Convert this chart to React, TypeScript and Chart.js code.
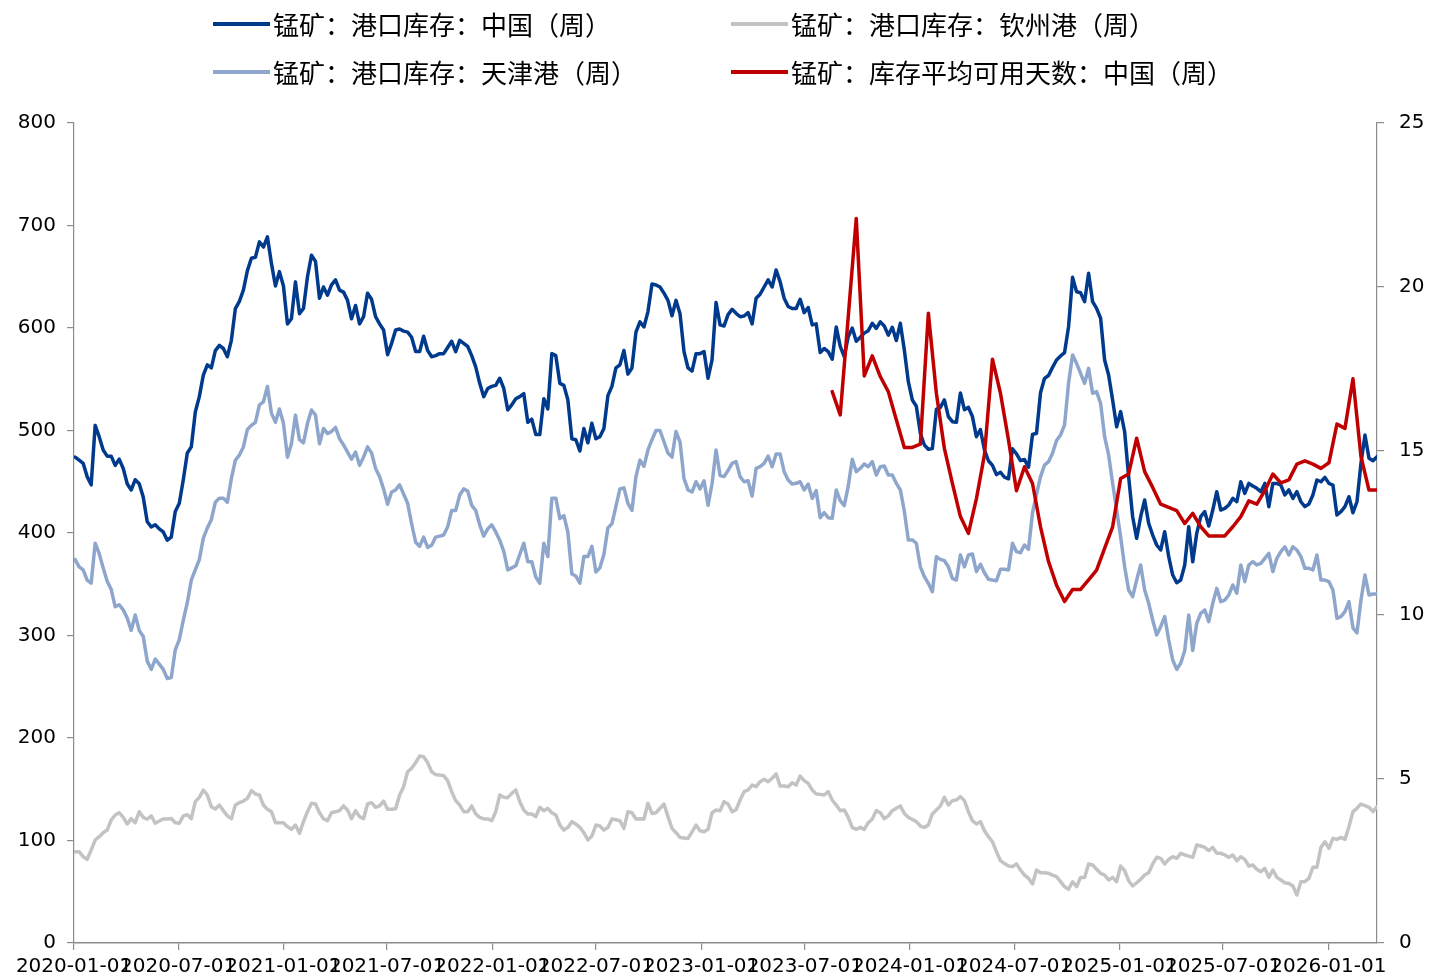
import React, { useEffect, useRef } from 'react';
import { Chart, registerables } from 'chart.js';

Chart.register(...registerables);

// ---------- data ----------
const FIRST_WEEK = '2020-01-03';

const xTickLabels = [
  '2020-01-01', '2020-07-01', '2021-01-01', '2021-07-01', '2022-01-01', '2022-07-01',
  '2023-01-01', '2023-07-01', '2024-01-01', '2024-07-01', '2025-01-01', '2025-07-01', '2026-01-01',
];

const seriesNames = [
  '锰矿：港口库存：中国（周）',
  '锰矿：港口库存：钦州港（周）',
  '锰矿：港口库存：天津港（周）',
  '锰矿：库存平均可用天数：中国（周）',
];

// 锰矿：港口库存：中国（周） weekly, 万吨
const chinaStock = [
  474, 471, 468, 455, 447, 505, 494, 481, 475, 475,
  466, 472, 463, 448, 442, 452, 448, 435, 411, 406,
  408, 404, 401, 393, 396, 421, 429, 452, 478, 484,
  518, 533, 554, 564, 561, 578, 583, 580, 572, 588,
  619, 626, 637, 656, 668, 669, 684, 679, 689, 663,
  641, 655, 641, 604, 609, 645, 614, 619, 650, 671,
  665, 629, 640, 632, 642, 647, 637, 635, 627, 609,
  622, 604, 611, 634, 628, 611, 604, 598, 574, 585,
  598, 599, 597,
  596, 591, 577, 577, 592, 578, 572, 573, 575, 575,
  581, 587, 577, 588, 585, 582, 573, 562, 546, 533,
  541, 543, 544, 551, 541, 520, 525, 531, 533, 536,
  508, 511, 496, 496, 531, 521, 575, 573, 546, 544,
  530, 492, 491, 480, 502, 488, 507, 492, 494, 502,
  534, 543, 561, 564, 578, 555, 561, 596, 606, 601,
  616, 643, 642, 640, 634, 627, 612, 627, 614, 577,
  561, 558, 575, 575, 577, 551, 569, 625, 603, 602,
  613,
  618.2, 614.3, 611, 611.7, 615, 604, 629, 633, 640, 647,
  640, 656.6, 645, 629, 621, 619, 619, 628, 615, 620,
  603, 604, 576, 580, 577, 569.5, 601, 582, 572, 591.5,
  600, 587, 591, 595, 597.4, 604.6, 599.7, 606, 602, 593,
  600.7, 587.8, 604.6, 578.5, 547.6, 529.8, 523.7, 497.3, 485.9, 481.7,
  482.3, 520.6, 522.6, 529.8, 513.6, 508.6, 508, 536.6, 520.3, 522.6,
  513.6, 493.9, 501, 481, 470.5, 466, 457, 459.3, 454.4, 452.9,
  482.1, 477.3, 470.7, 471.7, 464.2, 496.1, 497.3, 536.8, 550.9, 553.7,
  561.6, 568.8,
  572.7, 576, 601.3, 649.4, 635.4, 634.4, 625.7, 653.4, 625.7, 619.2,
  609.5, 568.8, 554.1, 529.8, 503.7, 518.4, 498.8, 454.9, 415.9, 394.8,
  415.9, 432.2, 409.4, 398, 388.3, 383.4, 401.3, 376.9, 359, 351.5,
  354.1, 368.8, 406.1, 372, 399.7, 415.9, 420.8, 406.8, 422.4, 440.3,
  422.4, 424, 427.3, 433.8, 430.5, 450, 438.7, 448.4, 445.9, 443.6,
  440.3, 448.4, 425.7, 448.4, 448.4, 446.8, 437.1, 442, 433.8, 440.3,
  430.5, 425.7, 428.3, 437.1, 451.7, 450, 454.3, 448.4, 446.8, 417.6,
  420.8, 425.7, 435.4, 419.8, 430.5, 468, 495.6, 472.9, 470.5, 474.5,
];

// 锰矿：港口库存：钦州港（周）
const qinzhouStock = [
  89.1, 89.1, 84.2, 81.6, 90.7, 100.5, 103.7, 107.6, 110.2, 120,
  124.9, 127.1, 122.6, 116.1, 121.3, 117.4, 128.1, 122.6, 120.7, 124,
  116.8, 119, 121, 121, 121.4, 117.4, 116.8, 124, 125.2, 121.3,
  137.9, 142.1, 149.3, 144.4, 133, 130.7, 134.6, 129.1, 124, 121.3,
  134.6, 136.9, 138.5, 141.1, 148.6, 145.4, 144.4, 134.6, 130.4, 128.1,
  117.4, 117.4, 117.4, 113.5, 110.9, 115.1, 107, 118.4, 128.1, 136.3,
  135.6, 127.1, 121.3, 119.3, 127.1, 128.1, 129.1, 133.7, 129.8, 121.3,
  129.1, 123.3, 121.3, 135.6, 136.9, 132.4, 133.7, 138.5, 130.4, 130.4,
  131, 144.4, 152.5, 167.1, 170.4, 175.9, 182.4, 181.8, 176, 167.1,
  164.2, 163.9, 163.3, 158.4, 147.6, 138.9, 134.6, 128.1, 128.1, 133.7,
  125.9, 122.6, 121, 121, 119.3, 128.1, 144.4, 142.1, 141.8, 146,
  149.3, 137.9, 129.8, 125.9, 125.9, 123.3, 132.4, 129.1, 131.4, 127.1,
  124.9, 115.1, 110.2, 112.8, 118.4, 116, 112.8, 107.6, 100.5, 104.4,
  115.1, 114.1, 110.2, 112.8, 121, 120.3, 119.3, 111.8, 128.1, 127.1,
  121, 121.3, 121, 136.3, 126.4, 127.1, 131.4, 135.6, 123.3, 111.8,
  107.6, 103, 102.5, 102, 108.5, 115.1, 109.5, 108.5, 110.9, 127.1,
  129.8, 129.1, 137.9, 135.6, 128.1,
  130,
  139.5, 147.6, 149.3, 154.1, 152.5, 157.4, 159.7, 157.4, 160.7, 164.9,
  153.2, 153.2, 152.5, 156.4, 154.1, 162.9, 158.4, 155.8, 149.3, 145.4,
  145,
  144.4, 147.6, 139.5, 134.6, 129.1, 129.8, 122.6, 112.8, 110.9, 112.8,
  110.9, 117.4, 121, 129.1, 127.1, 121.3, 124, 129.1, 131.4, 133.7,
  126.4, 122.6, 120.5,
  118.4, 114.1, 112.8, 115.1, 125.9, 129.8, 133.7, 142.1,
  134.6, 138.9, 139.5, 142.8, 138.9, 128.1, 119.3, 116.1, 118.4, 109.5,
  103.7, 98.8, 89.1, 80.3, 77.5,
  75.1, 74.5, 77.2, 71.2, 66.3, 63.1,
  57.6, 71.2, 68.6, 68.6, 68, 66.3, 64.7, 59.8, 54.9, 52.4,
  59.8, 54.9, 64, 64, 77.1, 76.1, 72,
  68, 66.3, 61.5, 64,
  59.8, 75.1, 70.5, 60.8, 55.6, 58.8, 62.1, 66.3, 68.6, 77.1,
  83.6, 82.6, 77.1, 81.6, 84.2, 82.6, 87.5, 85.9, 84.8,
  83.6, 95.6,
  94.6, 93.3, 90, 93.3, 87.5, 87.5, 85.9, 83.6, 85.9, 80.3,
  84.2, 81.6, 75.1, 76.1, 71.9, 69.6, 72.8, 64, 71.2, 64,
  61.5,
  58.8, 58.1, 55.6, 46.8, 59.8, 59.8, 63.1, 73.8, 73.8, 93.3,
  98.8, 92.4, 102.1, 101.1, 103, 101.1, 113.5, 128.1, 131.4, 135.6,
  134,
  132.4, 128.1, 133.1,
];

// 锰矿：港口库存：天津港（周）
const tianjinStock = [
  374, 367, 364, 354, 351, 390, 380, 366, 353, 345,
  328, 330, 325, 317, 305, 320, 305, 299, 275, 267,
  277, 272, 267, 258, 259, 286, 296, 315, 332, 354,
  364, 374, 395, 405, 413, 430, 434, 434, 430, 453,
  471, 476, 484, 501, 505, 508, 525, 528, 543, 517,
  508, 521, 507, 474, 487, 515, 491, 488, 507, 520,
  515, 487, 502, 497, 499, 503, 492, 486, 479, 472,
  479, 466, 474, 484, 478, 463, 455, 443, 428, 440,
  442, 447, 438,
  429, 409, 391, 387, 396, 386, 388, 396, 397, 398,
  406, 422, 422, 437, 443, 441, 427, 422, 408, 397,
  404, 408, 401, 393, 382, 364, 366, 368, 379, 390,
  372, 372, 357, 351, 390, 377, 434, 434, 414, 417,
  401, 360, 358, 351, 377, 377, 387, 362, 366, 379,
  405, 409, 426, 443, 444, 429, 422, 455, 471, 465,
  481, 491, 500, 500, 489, 478, 474, 499, 489, 453,
  442, 440, 450, 443, 451, 427, 448, 481, 456, 455,
  461,
  468, 469.6, 455, 450, 451, 436, 463, 464.7, 468, 475,
  464.7, 477, 477, 459.8, 451.7, 447.8, 448.5, 450, 442, 447.8,
  433.8, 441.3, 414.9, 419.8, 414.9, 414.3, 442, 431.5, 426.6, 445.7,
  472, 459.8, 463, 467.3, 464.7, 469.6, 456.6, 464.7, 465.4, 456.6,
  456.6, 448.5, 442, 421.5, 393.2, 393.2, 390, 367, 357.4, 350.9,
  342.7, 376.9, 374.3, 373, 367, 355.8, 354.1, 378.5, 367, 378.5,
  379.5, 362.3, 369.4, 361.2, 354.9, 354.1, 353.5, 364.6, 364.6, 363.9,
  390, 381.8, 380.8, 388.3, 384.1, 419.8, 437.7, 455, 466.3, 469.6,
  477.8, 490.3,
  495.6, 505.4, 546, 573.7, 565.5, 555.8, 546, 560.6, 536.3, 537.9,
  526.5, 494, 476.1, 448.5, 422.4, 396.4, 367.1, 344.4, 337.9, 354.1,
  368.8, 344.4, 331.4, 315.1, 300.5, 308.6, 318.4, 295.6, 276.1, 266.9,
  272.9, 285.4, 320, 285.4, 311.9, 321.6, 324.9, 313.5, 331.4, 346,
  333, 334.6, 339.5, 349.3, 341.2, 368.8, 352.5, 368.8, 372, 368.8,
  370.4, 375.3, 380.2, 362.3, 375.3, 381.8, 386.6, 378.5, 386.6, 383.4,
  376.9, 365.5, 365.5, 364, 378.5, 354.1, 354.1, 352.5, 344.4, 316.8,
  318.4, 323.2, 333, 307.5, 302.6, 334.6, 359, 339.5, 340.5, 340.5,
];

// 锰矿：库存平均可用天数：中国（周） — reported every two weeks, from week index 189
const RED_FIRST_WEEK_INDEX = 189;
const RED_STEP_WEEKS = 2;
const availableDays = [
  16.81, 16.1, 19.1, 22.09, 17.29, 17.9, 17.27, 16.81, 15.95, 15.11,
  15.11, 15.21, 19.2, 16.76, 15.08, 14.01, 13.0, 12.49, 13.55, 14.88,
  17.8, 16.76, 15.34, 13.79, 14.52, 14.01, 12.69, 11.63, 10.91, 10.41,
  10.78, 10.78, 11.07, 11.37, 12.03, 12.69, 14.16, 14.3, 15.39, 14.37,
  13.89, 13.38, 13.28, 13.18, 12.79, 13.1, 12.69, 12.41, 12.41, 12.41,
  12.69, 13.0, 13.48, 13.38, 13.79, 14.3, 14.03, 14.12, 14.6, 14.7,
  14.6, 14.47, 14.64, 15.82, 15.69, 17.2, 14.83, 13.81, 13.81,
];

// ---------- helpers ----------
const COLORS = {
  china: '#003A8C',
  qinzhou: '#C3C3C3',
  tianjin: '#8FA6CC',
  days: '#C00000',
  axis: '#8C8C8C',
};

const EPOCH = Date.UTC(2020, 0, 1);
function dayOffset(iso: string): number {
  const [y, m, d] = iso.split('-').map(Number);
  return (Date.UTC(y, m - 1, d) - EPOCH) / 86400000;
}
const firstDay = dayOffset(FIRST_WEEK);
const weekly = (vals: number[]) => vals.map((v, i) => ({ x: firstDay + 7 * i, y: v }));
const tickDays = xTickLabels.map(dayOffset);
const lastDay = firstDay + 7 * (chinaStock.length - 1);

const FONT = 'DejaVu Sans';

export default function App() {
  const ref = useRef<HTMLCanvasElement | null>(null);

  useEffect(() => {
    if (!ref.current) return;
    const axisGrid = {
      display: true,
      drawOnChartArea: false,
      drawTicks: true,
      tickLength: 7,
      color: COLORS.axis,
      lineWidth: 1.2,
    };
    const chart = new Chart(ref.current, {
      type: 'line',
      data: {
        datasets: [
          {
            label: seriesNames[3],
            data: availableDays.map((v, i) => ({
              x: firstDay + 7 * (RED_FIRST_WEEK_INDEX + RED_STEP_WEEKS * i),
              y: v,
            })),
            borderColor: COLORS.days,
            backgroundColor: COLORS.days,
            yAxisID: 'y1',
            order: 0,
          },
          {
            label: seriesNames[0],
            data: weekly(chinaStock),
            borderColor: COLORS.china,
            backgroundColor: COLORS.china,
            yAxisID: 'y',
            order: 1,
          },
          {
            label: seriesNames[2],
            data: weekly(tianjinStock),
            borderColor: COLORS.tianjin,
            backgroundColor: COLORS.tianjin,
            yAxisID: 'y',
            order: 2,
          },
          {
            label: seriesNames[1],
            data: weekly(qinzhouStock),
            borderColor: COLORS.qinzhou,
            backgroundColor: COLORS.qinzhou,
            yAxisID: 'y',
            order: 3,
          },
        ],
      },
      options: {
        animation: false,
        responsive: false,
        maintainAspectRatio: false,
        layout: { padding: { top: 123, left: 0, right: 0, bottom: 0 } },
        elements: {
          point: { radius: 0, hoverRadius: 0 },
          line: { tension: 0, borderWidth: 3.5, borderJoinStyle: 'round', borderCapStyle: 'round' },
        },
        plugins: {
          legend: { display: false },
          tooltip: { enabled: false },
        },
        scales: {
          x: {
            type: 'linear',
            position: 'bottom',
            min: 0,
            max: lastDay,
            grid: axisGrid,
            border: { display: true, color: COLORS.axis, width: 1.5 },
            ticks: {
              autoSkip: false,
              maxRotation: 0,
              minRotation: 0,
              color: '#000',
              padding: 5,
              font: { family: FONT, size: 20 },
              callback: (value: any) => {
                const idx = tickDays.indexOf(Number(value));
                return idx >= 0 ? xTickLabels[idx] : '';
              },
            },
            afterBuildTicks: (scale: any) => {
              scale.ticks = tickDays.map((v) => ({ value: v }));
            },
            afterFit: (scale: any) => {
              scale.height = 37;
            },
          },
          y: {
            type: 'linear',
            position: 'left',
            min: 0,
            max: 800,
            grid: axisGrid,
            border: { display: true, color: COLORS.axis, width: 1.2 },
            ticks: {
              stepSize: 100,
              color: '#000',
              padding: 11,
              font: { family: FONT, size: 20 },
            },
            afterFit: (scale: any) => {
              scale.width = 74;
            },
          },
          y1: {
            type: 'linear',
            position: 'right',
            min: 0,
            max: 25,
            grid: axisGrid,
            border: { display: true, color: COLORS.axis, width: 1.2 },
            ticks: {
              stepSize: 5,
              color: '#000',
              padding: 15,
              font: { family: FONT, size: 20 },
            },
            afterFit: (scale: any) => {
              scale.width = 56;
            },
          },
        },
      },
    } as any);
    return () => chart.destroy();
  }, []);

  const legendItems = [
    { name: seriesNames[0], color: COLORS.china, left: 213, top: 24 },
    { name: seriesNames[1], color: COLORS.qinzhou, left: 731, top: 24 },
    { name: seriesNames[2], color: COLORS.tianjin, left: 213, top: 72 },
    { name: seriesNames[3], color: COLORS.days, left: 731, top: 72 },
  ];

  return (
    <div style={{ position: 'absolute', left: 0, top: 0, width: 1433, height: 980, background: '#fff' }}>
      <canvas ref={ref} width={1433} height={980} style={{ position: 'absolute', left: 0, top: 0 }} />
      {legendItems.map((it) => (
        <div
          key={it.name}
          style={{
            position: 'absolute',
            left: it.left,
            top: it.top - 18,
            height: 36,
            display: 'flex',
            alignItems: 'center',
            whiteSpace: 'nowrap',
          }}
        >
          <span style={{ display: 'inline-block', width: 57, height: 4, background: it.color }} />
          <span
            style={{
              marginLeft: 3,
              fontFamily: '"Noto Sans CJK SC", "Noto Sans", sans-serif',
              fontSize: 26,
              lineHeight: '36px',
              color: '#000',
            }}
          >
            {it.name}
          </span>
        </div>
      ))}
    </div>
  );
}
